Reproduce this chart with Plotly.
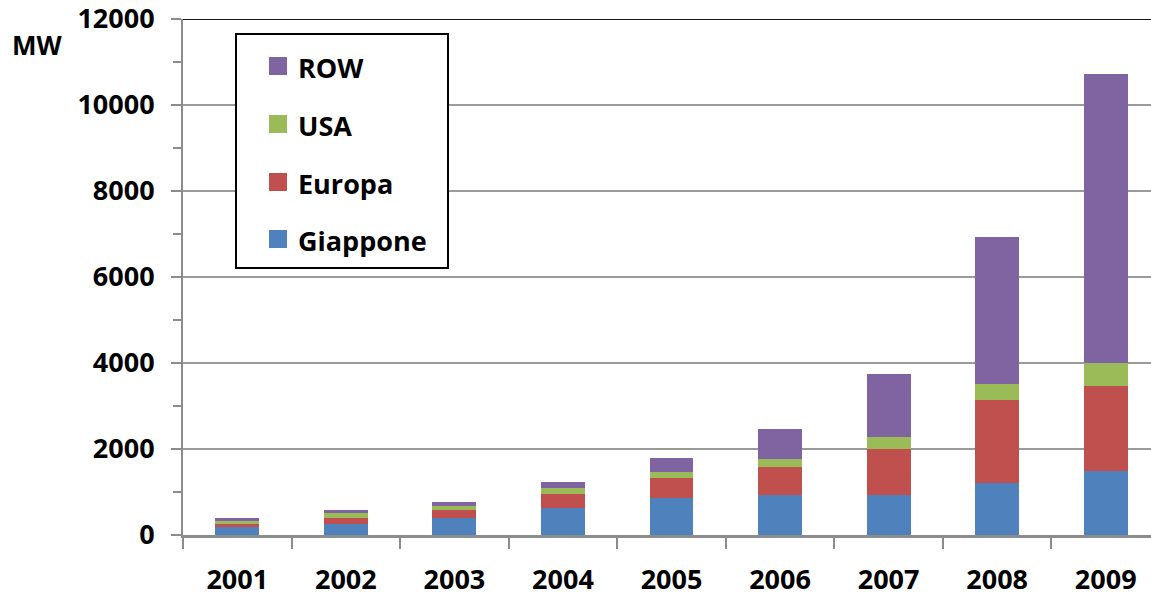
import plotly.graph_objects as go

# Installed PV capacity per year (MW), stacked by region
years = ["2001", "2002", "2003", "2004", "2005", "2006", "2007", "2008", "2009"]
giappone = [195, 250, 390, 620, 850, 940, 940, 1220, 1500]
europa = [50, 140, 185, 330, 465, 650, 1070, 1910, 1960]
usa = [90, 140, 95, 140, 140, 185, 280, 390, 530]
row = [55, 45, 95, 140, 325, 700, 1450, 3410, 6730]

series_names = ["Giappone", "Europa", "USA", "ROW"]
series_values = [giappone, europa, usa, row]
series_colors = ["#4F81BD", "#C0504D", "#9BBB59", "#8064A2"]

y_ticks = [0, 2000, 4000, 6000, 8000, 10000, 12000]

W, H = 1151, 597
L, R, T, B = 183, 0, 19, 62
FONT = "Open Sans"
AXIS_GRAY = "#8c8c8c"


def px_x(px):
    return (px - L) / (W - L - R)


def px_y(py):
    return (H - B - py) / (H - T - B)


fig = go.Figure()
for name, vals, col in zip(series_names, series_values, series_colors):
    fig.add_trace(go.Bar(x=years, y=vals, name=name, marker=dict(color=col, line=dict(width=0)),
                         showlegend=False))

fig.update_layout(
    width=W, height=H,
    margin=dict(l=L, r=R, t=T, b=B, pad=0),
    barmode="stack",
    bargap=0.595,
    plot_bgcolor="white",
    paper_bgcolor="white",
    font=dict(family=FONT, size=27, color="black"),
)

fig.update_xaxes(
    type="category",
    range=[-0.5, 8.417],
    showgrid=False,
    showline=True, linecolor=AXIS_GRAY, linewidth=3,
    ticks="outside", tickson="boundaries", ticklen=11, tickwidth=2, tickcolor=AXIS_GRAY,
    tickfont=dict(family=FONT, size=27, color="black", weight="bold"),
    ticklabelstandoff=19,
    ticklabeloverflow="allow",
)

fig.update_yaxes(
    range=[0, 12000],
    tickvals=y_ticks,
    ticktext=[str(v) for v in y_ticks],
    showgrid=True, gridcolor="#9a9a9a", gridwidth=2,
    zeroline=False,
    showline=True, linecolor=AXIS_GRAY, linewidth=2,
    ticks="outside", ticklen=10, tickwidth=2, tickcolor=AXIS_GRAY,
    minor=dict(dtick=1000, tick0=0, ticks="outside", ticklen=8, tickwidth=2, tickcolor=AXIS_GRAY,
               showgrid=False),
    tickfont=dict(family=FONT, size=27, color="black", weight="bold"),
    ticklabelstandoff=11,
    ticklabeloverflow="allow",
)

shapes = []
annotations = []

# dark top border of the plot area
shapes.append(dict(type="line", xref="paper", yref="y", x0=0, x1=1, y0=12000, y1=12000,
                   line=dict(color="#1a1a1a", width=2), layer="above"))

# unit label
annotations.append(dict(text="<b>MW</b>", xref="paper", yref="paper", x=px_x(37), y=px_y(45),
                        xanchor="center", yanchor="middle", showarrow=False,
                        font=dict(family=FONT, size=26, color="black")))

# legend box
shapes.append(dict(type="rect", xref="paper", yref="paper",
                   x0=px_x(236), x1=px_x(448), y0=px_y(268), y1=px_y(34),
                   line=dict(color="black", width=2), fillcolor="white", layer="above"))

legend_rows = [66, 124, 182, 239]
for cy, name, col in zip(legend_rows, series_names[::-1], series_colors[::-1]):
    shapes.append(dict(type="rect", xref="paper", yref="paper",
                       x0=px_x(269), x1=px_x(287), y0=px_y(cy + 9), y1=px_y(cy - 9),
                       line=dict(width=0), fillcolor=col, layer="above"))
    annotations.append(dict(text=f"<b>{name}</b>", xref="paper", yref="paper",
                            x=px_x(296), y=px_y(cy + 1), xanchor="left", yanchor="middle",
                            showarrow=False, font=dict(family=FONT, size=27, color="black")))

fig.update_layout(shapes=shapes, annotations=annotations)

fig.write_html("out.html")
